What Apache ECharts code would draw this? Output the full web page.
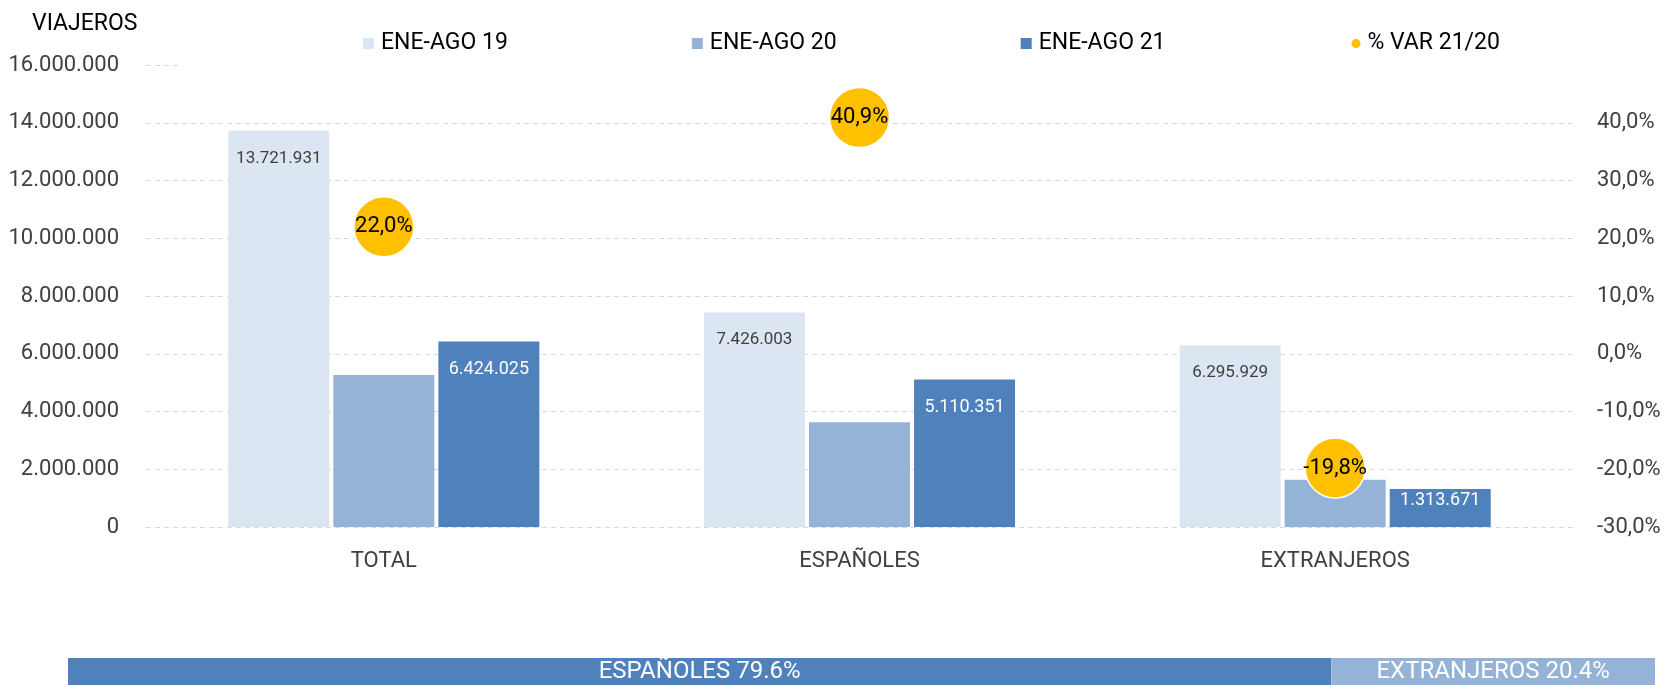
<!DOCTYPE html>
<html>
<head>
<meta charset="utf-8">
<title>Viajeros ENE-AGO</title>
<script src="https://cdn.jsdelivr.net/npm/echarts@6/dist/echarts.min.js"></script>
<style>
  html, body { margin: 0; padding: 0; background: #fff; }
  #main { width: 1669px; height: 685px; }
</style>
</head>
<body>
<div id="main"></div>
<script>
// datos del grafico
var categorias = ['TOTAL', 'ESPAÑOLES', 'EXTRANJEROS'];
var ene_ago_19 = [13721931, 7426003, 6295929];
var ene_ago_20 = [5265000, 3628000, 1638000];   // sin etiqueta en el original, estimado
var ene_ago_21 = [6424025, 5110351, 1313671];
var var_21_20 = [22.0, 40.9, -19.8];
var reparto_nombres = ['ESPAÑOLES', 'EXTRANJEROS'];
var reparto_valores = [79.6, 20.4];

var font = 'Roboto, "Noto Sans", sans-serif';

function miles(v) {
    return String(Math.round(v)).replace(/\B(?=(\d{3})+(?!\d))/g, '.');
}
function pct(v) {
    return v.toFixed(1).replace('.', ',') + '%';
}

var myChart = echarts.init(document.getElementById('main'));

// etiqueta de la ultima barra de extranjeros queda pegada arriba (barra baja)
var datos21 = ene_ago_21.map(function (v, i) {
    if (i === 2) return { value: v, label: { distance: 2 } };
    return v;
});

myChart.setOption({
    animation: false,
    textStyle: { fontFamily: font },
    title: {
        text: 'VIAJEROS',
        left: 32,
        top: 13,
        padding: 0,
        textStyle: { fontSize: 23, fontWeight: 'normal', color: '#000', fontFamily: font }
    },
    legend: {
        data: [
            { name: 'ENE-AGO 19', icon: 'square' },
            { name: 'ENE-AGO 20', icon: 'square' },
            { name: 'ENE-AGO 21', icon: 'square' },
            { name: '% VAR 21/20', icon: 'circle' }
        ],
        // el fondo blanco tapa la linea de 16.000.000 como en el original
        left: 179,
        top: 20,
        padding: [12, 90, 22, 184],
        backgroundColor: '#fff',
        itemWidth: 13,
        itemHeight: 11,
        itemGap: 184,
        selectedMode: false,
        textStyle: { fontSize: 23, color: '#000', fontFamily: font }
    },
    grid: [
        { left: 146, right: 96, top: 65, bottom: 158 },
        { left: 68, right: 14, top: 658, height: 38 }
    ],
    xAxis: [
        {
            type: 'category',
            gridIndex: 0,
            data: categorias,
            axisLine: { show: false },
            axisTick: { show: false },
            axisLabel: { fontSize: 22, color: '#404040', margin: 23, fontFamily: font }
        },
        { type: 'value', gridIndex: 1, min: 0, max: 100, show: false }
    ],
    yAxis: [
        {
            type: 'value',
            gridIndex: 0,
            min: 0,
            max: 16000000,
            interval: 2000000,
            axisLabel: {
                fontSize: 22, color: '#404040', margin: 27, fontFamily: font,
                formatter: miles
            },
            splitLine: { lineStyle: { color: '#d9d9d9', type: [5, 4] } }
        },
        {
            type: 'value',
            gridIndex: 0,
            min: -30,
            max: 50,
            interval: 10,
            axisLabel: {
                fontSize: 22, color: '#404040', margin: 24, fontFamily: font,
                showMaxLabel: false,
                formatter: pct
            },
            splitLine: { show: false }
        },
        { type: 'category', gridIndex: 1, data: ['reparto'], show: false }
    ],
    series: [
        {
            name: 'ENE-AGO 19',
            type: 'bar',
            data: ene_ago_19,
            barWidth: 101,
            barGap: '4%',
            itemStyle: { color: '#DCE6F2' },
            label: {
                show: true, position: 'insideTop', distance: 19,
                fontSize: 17, color: '#404040', fontFamily: font,
                formatter: function (p) { return miles(p.value); }
            }
        },
        {
            name: 'ENE-AGO 20',
            type: 'bar',
            data: ene_ago_20,
            barWidth: 101,
            barGap: '4%',
            itemStyle: { color: '#95B3D7' }
        },
        {
            name: 'ENE-AGO 21',
            type: 'bar',
            data: datos21,
            barWidth: 101,
            barGap: '4%',
            itemStyle: { color: '#4F81BD' },
            label: {
                show: true, position: 'insideTop', distance: 19,
                fontSize: 18, color: '#fff', fontFamily: font,
                formatter: function (p) { return miles(p.value); }
            }
        },
        {
            name: '% VAR 21/20',
            type: 'scatter',
            yAxisIndex: 1,
            data: var_21_20,
            symbolSize: 60,
            z: 5,
            itemStyle: { color: '#FFC000', borderColor: '#fff', borderWidth: 1.5, opacity: 1 },
            label: {
                show: true, position: 'inside',
                fontSize: 22, color: '#000', fontFamily: font,
                formatter: function (p) { return pct(p.value); }
            }
        },
        // franja inferior con el reparto
        {
            name: reparto_nombres[0],
            type: 'bar',
            xAxisIndex: 1,
            yAxisIndex: 2,
            stack: 'reparto',
            barWidth: '100%',
            data: [reparto_valores[0]],
            itemStyle: { color: '#4F81BD' },
            label: {
                show: true, position: 'inside', fontSize: 24, color: '#fff', fontFamily: font,
                formatter: function (p) { return p.seriesName + ' ' + p.value.toFixed(1) + '%'; }
            }
        },
        {
            name: reparto_nombres[1],
            type: 'bar',
            xAxisIndex: 1,
            yAxisIndex: 2,
            stack: 'reparto',
            barWidth: '100%',
            data: [reparto_valores[1]],
            itemStyle: { color: '#95B3D7' },
            label: {
                show: true, position: 'inside', fontSize: 24, color: '#fff', fontFamily: font,
                formatter: function (p) { return p.seriesName + ' ' + p.value.toFixed(1) + '%'; }
            }
        }
    ]
});
</script>
</body>
</html>
